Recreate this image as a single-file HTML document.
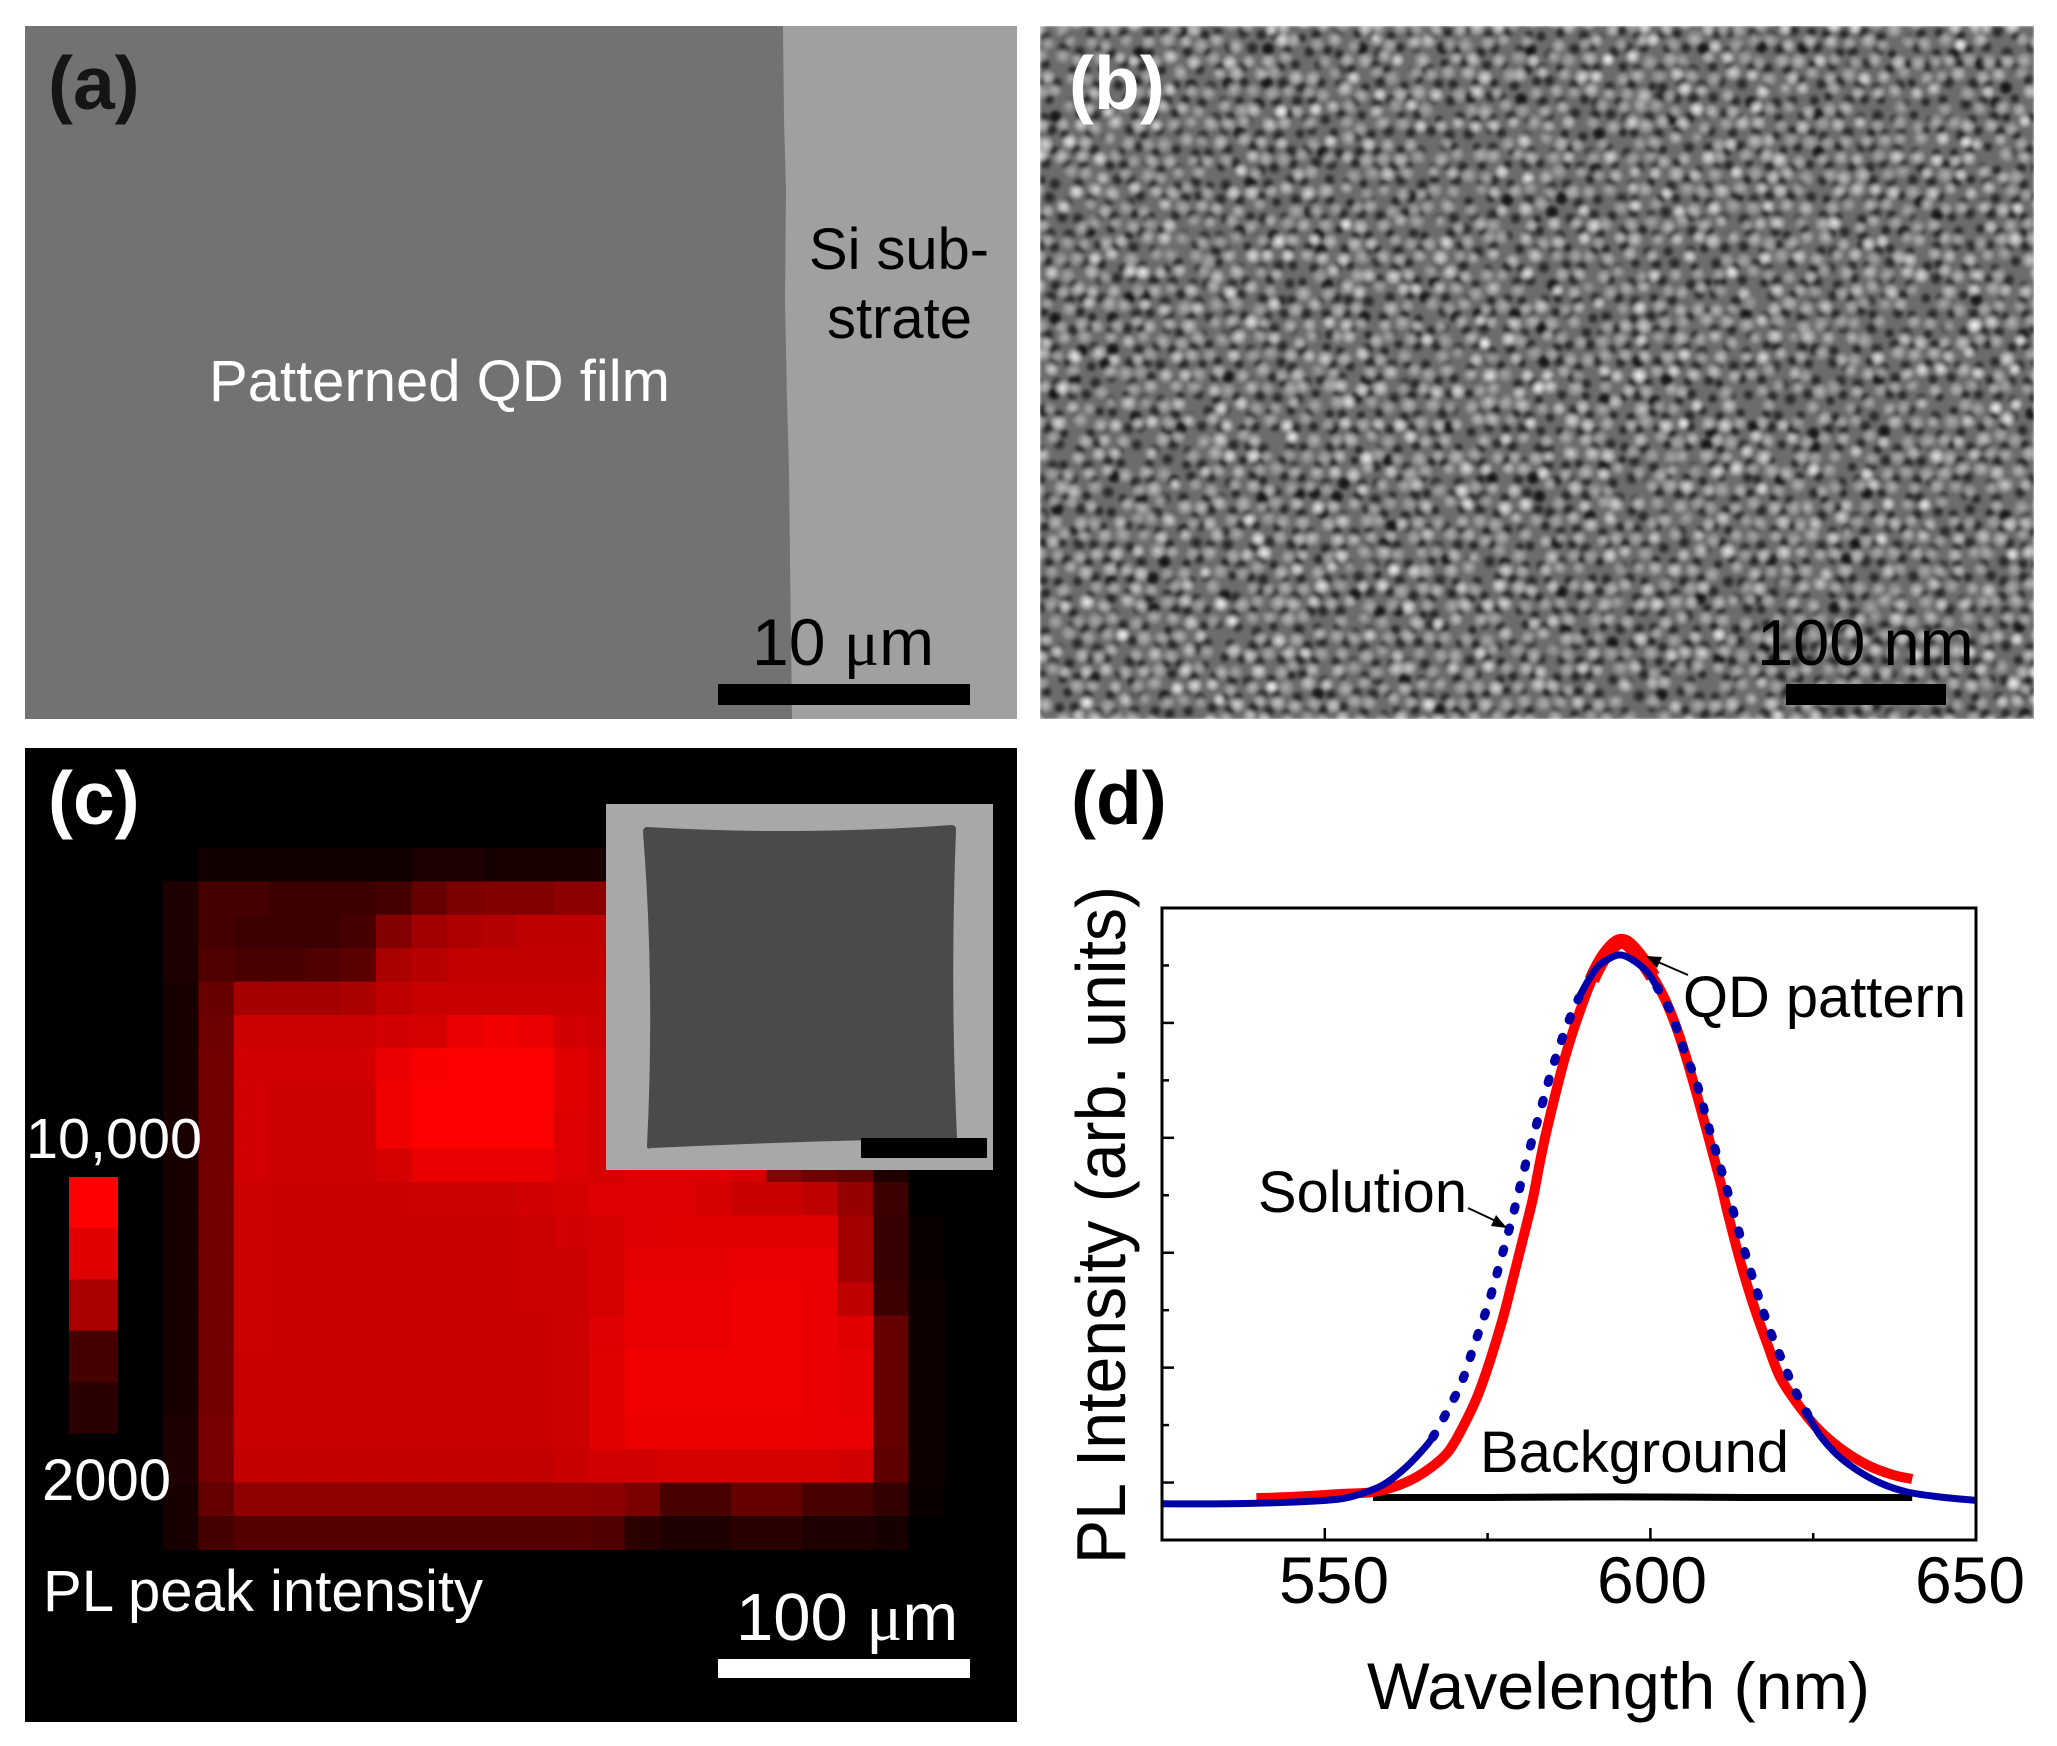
<!DOCTYPE html>
<html lang="en">
<head>
<meta charset="utf-8">
<title>Patterned QD film characterisation</title>
<style>
html,body{margin:0;padding:0;background:#fff;}
#stage{position:relative;width:2057px;height:1746px;overflow:hidden;background:#fff;}
#sem-b{position:absolute;left:1040px;top:26px;width:994px;height:693px;}
#overlay{position:absolute;left:0;top:0;}
text{font-family:"Liberation Sans",sans-serif;}
.mu{font-family:"Liberation Serif",serif;}
</style>
</head>
<body>
<div id="stage">
<canvas id="sem-b" width="994" height="693"></canvas>
<svg id="overlay" width="2057" height="1746" viewBox="0 0 2057 1746" xmlns="http://www.w3.org/2000/svg">

  <!-- Panel a -->
  <g>
    <rect x="25" y="26" width="992" height="693" fill="#a0a0a0"/>
    <path d="M25 26H783L784 120L786 190L785 300L787 400L789 470L790 560L792 719H25Z" fill="#727272"/>
    <text x="48" y="109" font-size="75" font-weight="bold" fill="#151515">(a)</text>
    <text x="209" y="401" font-size="58" fill="#fff" textLength="461" lengthAdjust="spacingAndGlyphs">Patterned QD film</text>
    <text x="809" y="269" font-size="58" fill="#000" textLength="180" lengthAdjust="spacingAndGlyphs">Si sub-</text>
    <text x="827" y="338" font-size="58" fill="#000" textLength="145" lengthAdjust="spacingAndGlyphs">strate</text>
    <text x="752" y="665" font-size="66" fill="#000">10 <tspan class="mu">μ</tspan>m</text>
    <rect x="718" y="684" width="252" height="21" fill="#000"/>
  </g>

  <!-- Panel b overlays -->
  <g>
    <text x="1069" y="109" font-size="75" font-weight="bold" fill="#fff">(b)</text>
    <text x="1757" y="665" font-size="65" fill="#000">100 nm</text>
    <rect x="1786" y="684" width="160" height="21" fill="#000"/>
  </g>

  <!-- Panel c -->
  <g>
    <rect x="25" y="748" width="992" height="974" fill="#000"/>
    <g id="heatmap"></g>
    <g>
      <rect x="606" y="804" width="387" height="366" fill="#a8a8a8"/>
      <path d="M647 827Q800 836 952 825Q956 825 956 830Q950 985 957 1138Q800 1141 651 1148Q647 1150 647 1146Q655 985 643 832Q643 827 647 827Z" fill="#4a4a4a"/>
      <rect x="861" y="1138" width="126" height="20" fill="#000"/>
    </g>
    <g id="colorbar"></g>
    <text x="26" y="1158" font-size="57" fill="#fff" textLength="176" lengthAdjust="spacingAndGlyphs">10,000</text>
    <text x="42" y="1500" font-size="58" fill="#fff">2000</text>
    <text x="43" y="1611" font-size="58" fill="#fff" textLength="440" lengthAdjust="spacingAndGlyphs">PL peak intensity</text>
    <text x="48" y="824" font-size="75" font-weight="bold" fill="#fff">(c)</text>
    <text x="736" y="1640" font-size="67" fill="#fff">100 <tspan class="mu">μ</tspan>m</text>
    <rect x="718" y="1659" width="252" height="19" fill="#fff"/>
  </g>

  <!-- Panel d -->
  <g>
    <text x="1071" y="824" font-size="75" font-weight="bold" fill="#000">(d)</text>
    <g id="plot"></g>
    <rect x="1162" y="908" width="814" height="632" fill="none" stroke="#000" stroke-width="3"/>
    <text x="1683" y="1017" font-size="58" fill="#000" textLength="283" lengthAdjust="spacingAndGlyphs">QD pattern</text>
    <text x="1258" y="1212" font-size="58" fill="#000" textLength="209" lengthAdjust="spacingAndGlyphs">Solution</text>
    <text x="1480" y="1472" font-size="58" fill="#000" textLength="309" lengthAdjust="spacingAndGlyphs">Background</text>
    <line x1="1688" y1="975" x2="1658" y2="962" stroke="#000" stroke-width="2"/>
    <path d="M1646 956L1662 957L1657 968Z" fill="#000"/>
    <line x1="1468" y1="1208" x2="1498" y2="1222" stroke="#000" stroke-width="2"/>
    <path d="M1507 1228L1491 1226L1496 1215Z" fill="#000"/>
    <text x="1367" y="1709" font-size="66" fill="#000" textLength="503" lengthAdjust="spacingAndGlyphs">Wavelength (nm)</text>
    <text transform="translate(1125 1564) rotate(-90)" font-size="70" fill="#000" textLength="678" lengthAdjust="spacingAndGlyphs">PL Intensity (arb. units)</text>
  </g>
</svg>
</div>

<script>
// ---------- Chart (d) data ----------
const xTickMajor = [550, 600, 650];
const xTickMinor = [575, 625];
const yTickMajor = [0, 2, 4, 6, 8];
const yTickMinor = [1, 3, 5, 7, 9];
const solutionWavelength = [525,535,545,552.3,555.9,558.9,562,564.6,566.6,568.9,571.1,572.9,575.1,577.1,579.1,581,583,585,587,589,591.5,593.3,595.3,597.3,599.5,601,603.2,605,607.2,609,612.1,614.1,616.1,618.1,620.2,622.1,624.2,626,628.7,631.7,635.3,639.4,644.5,650];
const solutionIntensity = [-0.37,-0.37,-0.34,-0.286,-0.182,-0.043,0.218,0.514,0.793,1.263,1.768,2.377,3.108,3.909,4.744,5.614,6.432,7.233,7.895,8.434,8.92,9.095,9.183,9.095,8.887,8.626,8.173,7.581,6.92,6.171,4.97,4.17,3.421,2.725,2.133,1.628,1.176,0.828,0.48,0.218,-0.008,-0.164,-0.252,-0.31];
const patternWavelength = [539.5,545,552.3,557.4,561.5,565.1,568.8,571.2,573.4,575.4,577.4,578.9,581,582,583.5,585.3,586.9,588.7,591,593.3,595.6,597.9,600.4,602.5,604.5,606.5,608.7,610.7,611.9,613.8,615.8,617.9,619.9,622.5,625.6,629.1,633.3,637.3,640.2];
const patternIntensity = [-0.27,-0.25,-0.2,-0.165,-0.04,0.166,0.514,0.967,1.49,2.13,2.88,3.55,4.5,4.97,5.84,6.71,7.407,8.05,8.747,9.217,9.42,9.217,8.8,8.347,7.755,7.007,6.1,5.25,4.68,3.85,3.1,2.429,1.837,1.385,0.949,0.601,0.305,0.131,0.062];
const backgroundWavelength = [557.4,575,595,615,640.2];
const backgroundIntensity = [-0.26,-0.26,-0.25,-0.26,-0.26];

// ---------- Heatmap (c) data: red level of each map pixel ----------
const peakIntensityRows = [
[0,18,18,18,18,18,18,28,30,25,25,25,25,0,0,0,0,0,0,0,0,0],
[30,70,70,60,60,60,70,100,125,130,130,140,140,140,140,140,140,140,130,100,30,0],
[30,70,60,60,60,70,130,160,175,180,190,190,190,190,190,190,190,190,180,140,30,0],
[30,80,75,75,80,90,170,185,195,195,195,195,195,200,200,200,200,200,190,150,30,0],
[25,105,165,165,165,170,190,200,200,200,200,200,200,205,205,205,205,205,195,150,30,0],
[25,110,205,205,205,205,210,215,235,240,235,210,205,210,210,210,210,210,200,150,35,0],
[25,115,210,210,210,210,235,250,255,255,255,225,215,215,215,215,215,215,200,150,35,0],
[25,115,210,205,205,205,240,255,255,255,255,225,215,215,215,215,215,215,200,150,35,0],
[25,115,210,205,205,205,240,255,255,255,255,220,215,215,215,215,215,215,200,150,35,0],
[25,115,210,205,205,205,215,235,235,235,235,220,215,220,220,220,215,130,110,100,30,0],
[25,115,205,200,200,200,200,205,205,205,210,215,220,220,220,215,200,200,190,150,60,0],
[25,115,205,200,200,200,200,200,200,200,205,210,215,220,225,225,225,225,225,165,55,10],
[25,115,205,200,200,200,200,200,200,200,205,205,215,230,230,230,235,235,235,165,55,10],
[25,115,205,200,200,200,200,200,200,200,205,205,215,235,235,235,240,240,235,190,60,15],
[25,115,205,200,200,200,200,200,200,200,200,205,220,235,235,235,240,240,235,225,100,15],
[25,115,200,200,200,200,200,200,200,200,200,205,225,240,240,240,240,240,235,230,100,15],
[25,115,200,200,200,200,200,200,200,200,200,205,225,240,240,240,240,240,235,230,100,15],
[30,120,200,200,200,200,200,200,200,200,200,205,225,238,238,238,238,238,235,235,100,15],
[30,120,195,195,195,195,195,195,195,195,195,200,210,210,215,215,215,215,215,210,95,15],
[25,100,145,145,145,145,145,145,145,145,145,145,140,125,75,75,100,100,75,75,50,10],
[25,70,85,85,85,85,85,85,85,85,85,85,80,45,30,30,45,45,30,30,22,0]
];
const colorbarLevels = [255,225,170,70,45];

const SVGNS = 'http://www.w3.org/2000/svg';

// ---------- Heatmap ----------
(function () {
  const heatmap = document.getElementById('heatmap');
  const colX = i => 163 + i * 35.5;
  const rowY = i => 848 + i * 33.4;
  peakIntensityRows.forEach((row, r) => {
    row.forEach((v, c) => {
      const cell = document.createElementNS(SVGNS, 'rect');
      cell.setAttribute('x', colX(c));
      cell.setAttribute('y', rowY(r));
      cell.setAttribute('width', 36);
      cell.setAttribute('height', 34);
      cell.setAttribute('fill', 'rgb(' + v + ',0,0)');
      
      
      heatmap.appendChild(cell);
    });
  });
  const colorbar = document.getElementById('colorbar');
  const stepH = 256 / colorbarLevels.length;
  colorbarLevels.forEach((v, i) => {
    const step = document.createElementNS(SVGNS, 'rect');
    step.setAttribute('x', 69);
    step.setAttribute('y', 1177 + i * stepH);
    step.setAttribute('width', 49);
    step.setAttribute('height', stepH + 0.5);
    step.setAttribute('fill', 'rgb(' + v + ',0,0)');
    
    
    colorbar.appendChild(step);
  });
})();

// ---------- Spectrum plot ----------
(function () {
  const plot = document.getElementById('plot');
  const sx = w => 1162 + (w - 525) * 814 / 125;
  const sy = v => 1540 - (v + 1) * 632 / 11;
  const labelX = w => 1652 + (w - 600) * 6.36;

  // Smooth path through the full series; only the [lo, hi] part is emitted,
  // so adjoining segments share tangents at their joins.
  function segmentPath(xs, ys, lo, hi) {
    const pts = xs.map((w, i) => [sx(w), sy(ys[i])]);
    let d = '';
    for (let i = 0; i < pts.length - 1; i++) {
      if (xs[i] < lo || xs[i + 1] > hi) continue;
      const p0 = pts[Math.max(0, i - 1)], p1 = pts[i], p2 = pts[i + 1], p3 = pts[Math.min(pts.length - 1, i + 2)];
      const c1x = p1[0] + (p2[0] - p0[0]) / 6, c1y = p1[1] + (p2[1] - p0[1]) / 6;
      const c2x = p2[0] - (p3[0] - p1[0]) / 6, c2y = p2[1] - (p3[1] - p1[1]) / 6;
      if (!d) d = 'M' + p1[0].toFixed(1) + ' ' + p1[1].toFixed(1);
      d += 'C' + c1x.toFixed(1) + ' ' + c1y.toFixed(1) + ' ' + c2x.toFixed(1) + ' ' + c2y.toFixed(1) + ' ' + p2[0].toFixed(1) + ' ' + p2[1].toFixed(1);
    }
    return d;
  }
  function addCurve(xs, ys, lo, hi, color, width, dash, name) {
    const p = document.createElementNS(SVGNS, 'path');
    p.setAttribute('d', segmentPath(xs, ys, lo, hi));
    p.setAttribute('fill', 'none');
    p.setAttribute('stroke', color);
    p.setAttribute('stroke-width', width);
    p.setAttribute('stroke-linecap', dash ? 'round' : 'butt');
    if (dash) p.setAttribute('stroke-dasharray', dash);
    
    
    plot.appendChild(p);
  }
  function addTick(x1, y1, x2, y2) {
    const t = document.createElementNS(SVGNS, 'line');
    t.setAttribute('x1', x1);
    t.setAttribute('y1', y1);
    t.setAttribute('x2', x2);
    t.setAttribute('y2', y2);
    t.setAttribute('stroke', '#000');
    t.setAttribute('stroke-width', 2.5);
    
    
    plot.appendChild(t);
  }
  xTickMajor.forEach(w => {
    addTick(sx(w), 1540, sx(w), 1528);
    const label = document.createElementNS(SVGNS, 'text');
    label.setAttribute('x', labelX(w));
    label.setAttribute('y', 1603);
    label.setAttribute('font-size', 66);
    label.setAttribute('text-anchor', 'middle');
    
    
    label.textContent = w;
    plot.appendChild(label);
  });
  xTickMinor.forEach(w => addTick(sx(w), 1540, sx(w), 1533));
  yTickMajor.forEach(v => addTick(1162, sy(v), 1174, sy(v)));
  yTickMinor.forEach(v => addTick(1162, sy(v), 1169, sy(v)));

  addCurve(backgroundWavelength, backgroundIntensity, 0, 999, '#000', 7, null, 'background-curve');
  addCurve(patternWavelength, patternIntensity, 0, 999, '#ff0000', 10, null, 'qd-pattern-curve');
  addCurve(patternWavelength, patternIntensity, 591, 600.4, '#ff0000', 15, null, 'qd-pattern-curve-peak');
  addCurve(solutionWavelength, solutionIntensity, 0, 566.6, '#0000a8', 7, null, 'solution-curve-left-tail');
  addCurve(solutionWavelength, solutionIntensity, 566.6, 589, '#0000a8', 9, '3.5 18.5', 'solution-curve-left-flank');
  addCurve(solutionWavelength, solutionIntensity, 589, 601, '#0000a8', 7, null, 'solution-curve-peak');
  addCurve(solutionWavelength, solutionIntensity, 601, 624.2, '#0000a8', 9, '3.5 18', 'solution-curve-right-flank');
  addCurve(solutionWavelength, solutionIntensity, 624.2, 999, '#0000a8', 7, null, 'solution-curve-right-tail');
})();

// ---------- SEM texture for panel (b) ----------
(function () {
  const cv = document.getElementById('sem-b');
  const ctx = cv.getContext('2d');
  const buffer = document.createElement('canvas');
  buffer.width = cv.width;
  buffer.height = cv.height;
  const bx = buffer.getContext('2d');
  let seed = 271828;
  const rnd = () => { seed = (seed * 1664525 + 1013904223) >>> 0; return seed / 4294967296; };
  bx.fillStyle = '#6c6c6c';
  bx.fillRect(0, 0, cv.width, cv.height);
  const spacing = 19, rowH = 16.5;
  const rows = Math.ceil((cv.height + 20) / rowH);
  const cols = Math.ceil((cv.width + 20) / spacing);
  function blob(x, y, r, v, a0, a1) {
    const g = bx.createRadialGradient(x, y, 0, x, y, r);
    g.addColorStop(0, 'rgba(' + v + ',' + v + ',' + v + ',' + a0 + ')');
    g.addColorStop(0.5, 'rgba(' + v + ',' + v + ',' + v + ',' + a1 + ')');
    g.addColorStop(1, 'rgba(' + v + ',' + v + ',' + v + ',0)');
    bx.fillStyle = g;
    bx.fillRect(x - r, y - r, r * 2, r * 2);
  }
  // dark pits in the gaps between particles
  for (let row = -1; row < rows; row++) {
    for (let col = -1; col < cols; col++) {
      const x = col * spacing + (row % 2 ? 0 : spacing / 2) + (rnd() - 0.5) * 10;
      const y = row * rowH + rowH * 0.5 + (rnd() - 0.5) * 8;
      const deep = rnd() < 0.08;
      blob(x, y, deep ? 8 : 6 + rnd() * 2, 15, deep ? 1 : 0.85, deep ? 0.8 : 0.5);
    }
  }
  // bright particles
  for (let row = -1; row < rows; row++) {
    for (let col = -1; col < cols; col++) {
      if (rnd() < 0.05) continue;
      const x = col * spacing + (row % 2 ? spacing / 2 : 0) + (rnd() - 0.5) * 9;
      const y = row * rowH + (rnd() - 0.5) * 8;
      const v = Math.round(165 + rnd() * rnd() * 90);
      blob(x, y, 7.5 + rnd() * 2, v, 1, 0.6);
    }
  }
  ctx.filter = 'blur(1px)';
  ctx.drawImage(buffer, 0, 0);
  ctx.filter = 'none';
})();
</script>
</body>
</html>
